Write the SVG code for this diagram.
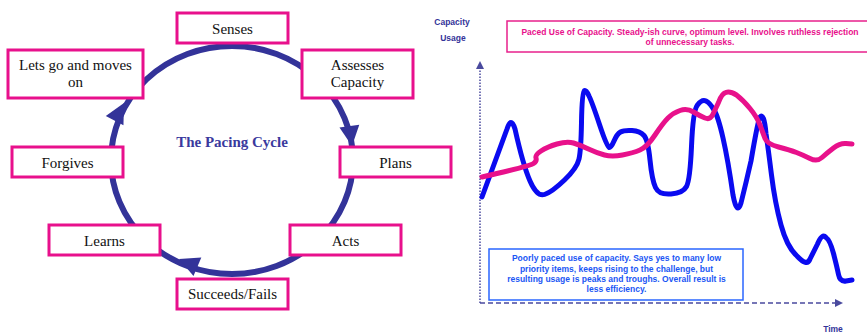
<svg xmlns="http://www.w3.org/2000/svg" width="867" height="334" viewBox="0 0 867 334">
<style>
.box{fill:#fff;stroke:#e8108c;stroke-width:3}
.lbl{font-family:"Liberation Serif","Times New Roman",serif;font-size:15px;fill:#111;text-anchor:middle}
.ring{fill:none;stroke:#333399;stroke-width:6}
.ah{fill:#333399}
.sm{font-family:"Liberation Sans",Arial,sans-serif;font-weight:bold;font-size:8.5px;text-anchor:middle}
.axis{stroke:#4a4a9e;stroke-width:1.5;fill:none}
</style>
<rect width="867" height="334" fill="#fff"/>
<g id="connectors">
<ellipse class="ring" cx="232" cy="160" rx="121" ry="114"/>
<polygon class="ah" points="0,0 -20,-10 -20,10" transform="translate(352,146) rotate(82.5)"/>
<polygon class="ah" points="0,0 -20,-10 -20,10" transform="translate(179,259) rotate(-157)"/>
<polygon class="ah" points="0,0 -20,-10 -20,10" transform="translate(124,103) rotate(-62)"/>
</g>
<text x="232" y="147" font-family="Liberation Serif,serif" font-weight="bold" font-size="15" fill="#3a3a9e" text-anchor="middle">The Pacing Cycle</text>
<g id="senses"><rect class="box" x="177" y="13" width="111" height="30"/><text class="lbl" x="232.5" y="34">Senses</text></g>
<g id="assesses"><rect class="box" x="302" y="50" width="111" height="48"/><text class="lbl" x="357.5" y="70">Assesses</text><text class="lbl" x="357.5" y="87">Capacity</text></g>
<g id="plans"><rect class="box" x="340" y="147" width="111" height="30"/><text class="lbl" x="395.5" y="168">Plans</text></g>
<g id="acts"><rect class="box" x="290" y="225" width="111" height="30"/><text class="lbl" x="345.5" y="246">Acts</text></g>
<g id="succeeds"><rect class="box" x="177" y="279" width="111" height="30"/><text class="lbl" x="232.5" y="299">Succeeds/Fails</text></g>
<g id="learns"><rect class="box" x="49" y="225" width="111" height="30"/><text class="lbl" x="104.5" y="246">Learns</text></g>
<g id="forgives"><rect class="box" x="12" y="147" width="111" height="30"/><text class="lbl" x="67.5" y="168">Forgives</text></g>
<g id="letsgo"><rect class="box" x="8" y="50" width="135" height="48"/><text class="lbl" x="75.5" y="70">Lets go and moves</text><text class="lbl" x="75.5" y="87">on</text></g>

<g id="chart">
<text class="sm" x="452" y="25" fill="#333399">Capacity</text>
<text class="sm" x="453" y="41" fill="#333399">Usage</text>
<rect x="507" y="21" width="370" height="31" fill="#fff" stroke="#e8208c" stroke-width="1.5"/>
<text class="sm" x="690" y="35" fill="#e8108c" font-size="8.6">Paced Use of Capacity. Steady-ish curve, optimum level. Involves ruthless rejection</text>
<text class="sm" x="690" y="45" fill="#e8108c" font-size="8.6">of unnecessary tasks.</text>
<line class="axis" x1="480" y1="303" x2="480" y2="68" stroke-dasharray="1.5,1.5"/>
<polygon points="480,61 476,69 484,69" fill="#4a4a9e"/>
<line class="axis" x1="480" y1="303" x2="836" y2="303" stroke-dasharray="5,3" stroke-width="2"/>
<polygon points="843,303 835,299 835,307" fill="#4a4a9e"/>
<text class="sm" x="833" y="332" fill="#333399">Time</text>
<path fill="none" stroke="#0a0af0" stroke-width="5" stroke-linecap="round" stroke-linejoin="round" d="M482,197 L507,129 Q511,116 515,129 Q523,165 530,181 Q537,197 544.5,194.5 Q552,192 564.5,180 Q577,168 579,159 Q581,150 581.5,122.5 Q582,92 584,91 Q586,89 589,96 Q592,102 599.5,124.5 Q607,147 609,147.5 Q611,148 614,141 Q617,134 620.5,132 Q624,130 632,130.5 Q640,131 644,135.5 Q648,140 650,160 Q652,180 655.5,187.5 Q659,195 671,194 Q683,193 686.5,186.5 Q690,180 691.5,146.5 Q693,110 697.5,105 Q702,99 706,101 Q710,103 714,110 Q718,116 723,138 Q728,160 733,195 Q737,216 741,203 Q746,183 751,161 Q758,120 760,117 Q764,112 766,133.5 Q768,147 771.5,175 Q775,203 781,225 Q787,247 797,256 Q807,267 810,259 Q813,253 817.5,244 Q822,233 826,237.5 Q830,240 833.5,253.5 Q837,267 838.5,274.5 Q840,282 846,281 L852,280"/>
<path fill="none" stroke="#e8118b" stroke-width="5" stroke-linecap="round" stroke-linejoin="round" d="M482,177 Q530,166 533.5,163.5 Q537,161 536,158 Q535,155 541,151 Q547,147 557,144 Q567,141 573.5,143 Q580,145 588.5,149 Q597,153 604.5,155 Q612,157 622.5,155 Q633,153 640,150 Q647,147 655,135 Q663,123 668,118 Q673,113 680,110.5 Q687,108 693.5,112 Q700,116 705,118 Q710,120 712.5,115 Q715,110 718.5,102.5 Q722,93 726,92.5 Q730,91 736.5,95 Q743,100 750,108.5 Q757,117 760,125 Q763,133 765,138.5 Q767,144 778.5,147 Q790,150 796.5,152.5 Q803,155 810,158.5 Q817,162 822,157.5 Q827,153 833.5,148 Q840,143 846,143.5 L852,144"/>
<rect x="489" y="249" width="254" height="51" fill="#fff" stroke="#2a66ff" stroke-width="1.5"/>
<text class="sm" fill="#1a56f5" x="616.5" y="261">Poorly paced use of capacity. Says yes to many low</text>
<text class="sm" fill="#1a56f5" x="616.5" y="272">priority items, keeps rising to the challenge, but</text>
<text class="sm" fill="#1a56f5" x="616.5" y="282">resulting usage is peaks and troughs. Overall result is</text>
<text class="sm" fill="#1a56f5" x="616.5" y="292">less efficiency.</text>
</g>
</svg>
